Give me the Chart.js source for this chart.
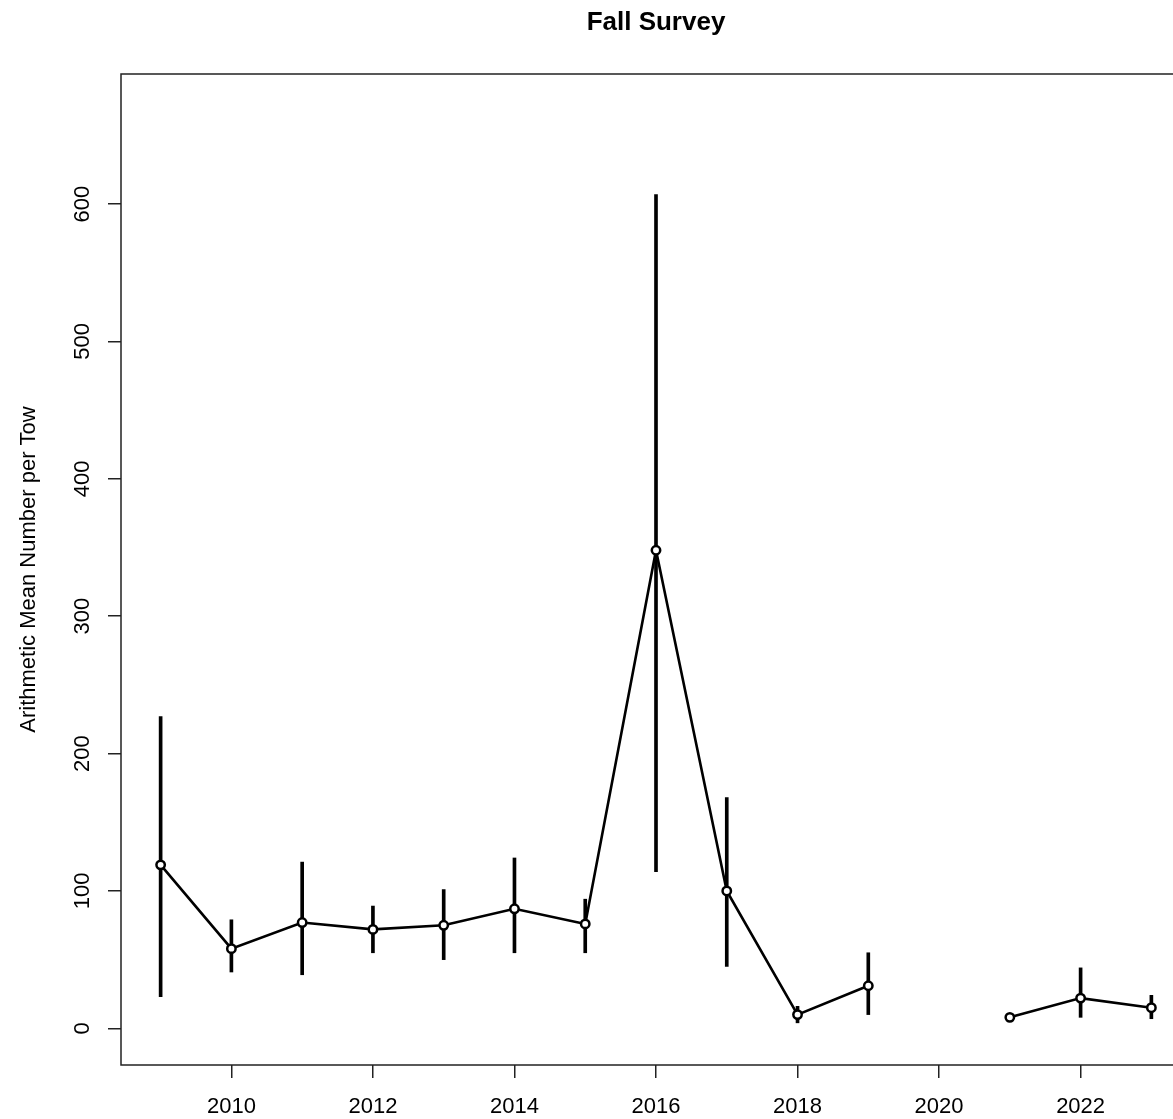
<!DOCTYPE html>
<html>
<head>
<meta charset="utf-8">
<script src="https://cdn.jsdelivr.net/npm/chart.js@4.4.1/dist/chart.umd.min.js"></script>
<style>
  html, body { margin: 0; padding: 0; background: #fff; overflow: hidden; }
  #wrap { width: 1200px; height: 1119px; }
</style>
</head>
<body>
<div id="wrap"><canvas id="chart" width="1200" height="1119"></canvas></div>
<script>
// Fall survey, arithmetic mean number per tow, with interval bounds
const years = [2009, 2010, 2011, 2012, 2013, 2014, 2015, 2016, 2017, 2018, 2019, 2020, 2021, 2022, 2023];
const means = [119, 58, 77, 72, 75, 87, 76, 348, 100, 10, 31, null, 8, 22, 15];
const lower = [23, 41, 39, 55, 50, 55, 55, 114, 45, 4, 10, null, 6, 8, 7];
const upper = [227, 79, 121, 89, 101, 124, 94, 607, 168, 16, 55, null, 10, 44, 24];

const xTicks = [2010, 2012, 2014, 2016, 2018, 2020, 2022];
const yTicks = [0, 100, 200, 300, 400, 500, 600];

const titleText = 'Fall Survey';
const yTitle = 'Arithmetic Mean Number per Tow';

const FONT = "'Liberation Sans', Arial, sans-serif";
const INK = '#000';
const AXIS = '#222';

// box around the plot region, like R's box()
const framePlugin = {
  id: 'frame',
  beforeDatasetsDraw(chart) {
    const { ctx, chartArea: a } = chart;
    ctx.save();
    ctx.strokeStyle = AXIS;
    ctx.lineWidth = 1.5;
    ctx.strokeRect(a.left, a.top, a.right - a.left, a.bottom - a.top);
    ctx.restore();
  }
};

// main title centred over the plot region
const titlePlugin = {
  id: 'plotTitle',
  afterDraw(chart) {
    const { ctx, chartArea: a } = chart;
    ctx.save();
    ctx.fillStyle = INK;
    ctx.font = 'bold 26px ' + FONT;
    ctx.textAlign = 'center';
    ctx.textBaseline = 'middle';
    ctx.fillText(titleText, (a.left + a.right) / 2, 23);
    ctx.restore();
  }
};

const meanPoints = years.map((x, i) => ({ x, y: means[i] }));
const barPoints = years.map((x, i) => ({ x, y: lower[i] == null ? null : [lower[i], upper[i]] }));

new Chart(document.getElementById('chart'), {
  type: 'line',
  data: {
    datasets: [
      {
        type: 'line',
        data: meanPoints,
        borderColor: INK,
        borderWidth: 2.6,
        pointRadius: 4.2,
        pointBorderWidth: 2.5,
        pointBackgroundColor: '#fff',
        pointBorderColor: INK,
        spanGaps: false,
        tension: 0,
        order: 0
      },
      {
        type: 'bar',
        data: barPoints,
        backgroundColor: INK,
        barThickness: 3,
        grouped: false,
        order: 1
      }
    ]
  },
  options: {
    responsive: false,
    animation: false,
    events: [],
    layout: { padding: { top: 74, right: 9, left: 0, bottom: 0 } },
    plugins: {
      legend: { display: false },
      title: { display: false },
      tooltip: { enabled: false }
    },
    scales: {
      x: {
        type: 'linear',
        min: 2008.44,
        max: 2023.56,
        offset: false,
        afterBuildTicks: s => { s.ticks = xTicks.map(v => ({ value: v })); },
        afterFit: s => { s.height = 54; },
        grid: { offset: false, drawOnChartArea: false, drawTicks: true, tickLength: 13, color: AXIS, lineWidth: 1.5 },
        border: { display: false },
        ticks: {
          color: INK,
          padding: 16,
          maxRotation: 0,
          autoSkip: false,
          font: { family: FONT, size: 22 },
          callback: v => String(v)
        }
      },
      y: {
        type: 'linear',
        min: -26.7,
        max: 694.7,
        afterBuildTicks: s => { s.ticks = yTicks.map(v => ({ value: v })); },
        afterFit: s => { s.width = 121; },
        grid: { offset: false, drawOnChartArea: false, drawTicks: true, tickLength: 13, color: AXIS, lineWidth: 1.5 },
        border: { display: false },
        ticks: {
          color: INK,
          padding: 7,
          minRotation: 90,
          maxRotation: 90,
          crossAlign: 'center',
          autoSkip: false,
          font: { family: FONT, size: 22 },
          callback: v => String(v)
        },
        title: {
          display: true,
          text: yTitle,
          color: INK,
          padding: { top: 16, bottom: 0 },
          font: { family: FONT, size: 22 }
        }
      }
    }
  },
  plugins: [framePlugin, titlePlugin]
});
</script>
</body>
</html>
